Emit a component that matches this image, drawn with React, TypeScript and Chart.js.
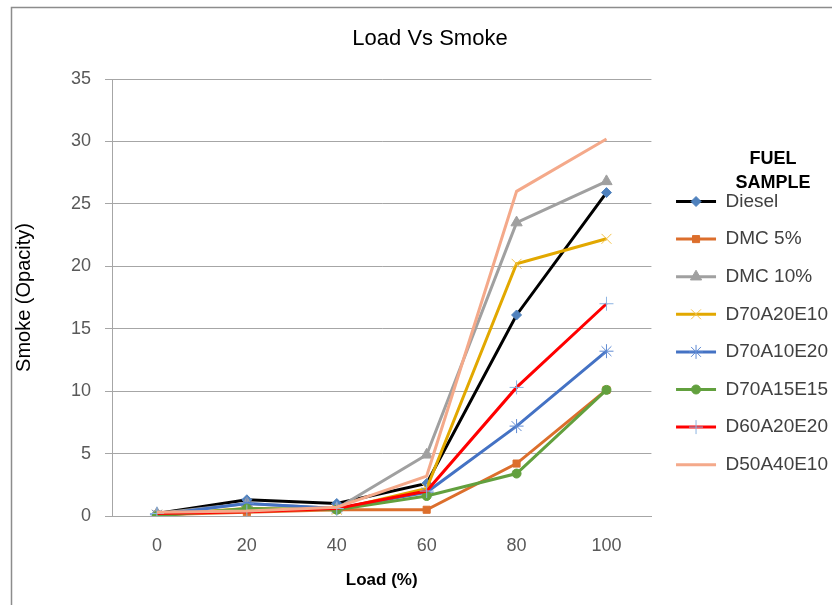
import React, { useEffect, useRef } from "react";
import { Chart, registerables } from "chart.js";
import { drawPoint } from "chart.js/helpers";

Chart.register(...registerables);

const FONT = "'Liberation Sans', Arial, sans-serif";

const chartTitle = "Load Vs Smoke";
const legendTitle = ["FUEL", "SAMPLE"];
const xAxisTitle = "Load (%)";
const yAxisTitle = "Smoke (Opacity)";

const loads = ["0", "20", "40", "60", "80", "100"];
const yTicksMin = 0;
const yTicksMax = 35;
const yTickStep = 5;

const seriesNames = [
  "Diesel",
  "DMC 5%",
  "DMC 10%",
  "D70A20E10",
  "D70A10E20",
  "D70A15E15",
  "D60A20E20",
  "D50A40E10",
];

const diesel = [0.2, 1.3, 1.0, 2.6, 16.1, 25.9];
const dmc5 = [0.1, 0.3, 0.5, 0.5, 4.2, 10.1];
const dmc10 = [0.2, 1.0, 0.6, 4.9, 23.5, 26.8];
const d70a20e10 = [0.1, 0.6, 0.5, 2.2, 20.2, 22.2];
const d70a10e20 = [0.1, 1.0, 0.6, 1.9, 7.2, 13.2];
const d70a15e15 = [0.0, 0.6, 0.5, 1.6, 3.4, 10.1];
const d60a20e20 = [0.2, 0.35, 0.6, 2.0, 10.3, 17.0];
const d50a40e10 = [0.3, 0.4, 0.7, 3.2, 26.0, 30.2];

const seriesValues = [diesel, dmc5, dmc10, d70a20e10, d70a10e20, d70a15e15, d60a20e20, d50a40e10];

const styles = [
  { line: "#000000", marker: "#4F81BD", style: "rectRot", r: 5, bw: 1 },
  { line: "#DC6E2C", marker: "#DC6E2C", style: "rect", r: 5, bw: 1 },
  { line: "#A0A0A0", marker: "#A0A0A0", style: "triangle", r: 6.5, bw: 1 },
  { line: "#E2A800", marker: "#F2C24A", style: "crossRot", r: 7, bw: 1 },
  { line: "#4472C4", marker: "#5F8AD2", style: "star", r: 7, bw: 1 },
  { line: "#62A03E", marker: "#62A03E", style: "circle", r: 4.5, bw: 1 },
  { line: "#FF0000", marker: "#8DB4E2", style: "cross", r: 7, bw: 1 },
  { line: "#F4A98A", marker: "#F4A98A", style: false, r: 0, bw: 0 },
];

const LEGEND_FONT_SIZE = 19;

const extrasPlugin = {
  id: "extras",
  beforeDraw(chart: any) {
    const ctx = chart.ctx;
    ctx.save();
    ctx.strokeStyle = "#8C8C8C";
    ctx.lineWidth = 1.5;
    ctx.beginPath();
    ctx.moveTo(11.5, chart.height);
    ctx.lineTo(11.5, 7.5);
    ctx.lineTo(chart.width, 7.5);
    ctx.stroke();
    ctx.restore();
  },
  afterDraw(chart: any) {
    const ctx = chart.ctx;
    ctx.save();
    ctx.fillStyle = "#000000";
    ctx.textAlign = "center";
    ctx.textBaseline = "middle";
    ctx.font = `22px ${FONT}`;
    ctx.fillText(chartTitle, 430, 39);

    const legend = chart.legend;
    const boxes = legend && legend.legendHitBoxes;
    if (boxes && boxes.length) {
      const first = boxes[0];
      const cy = first.top + LEGEND_FONT_SIZE / 2;
      ctx.font = `bold 18px ${FONT}`;
      ctx.fillStyle = "#000000";
      ctx.fillText(legendTitle[0], 773, cy - 42);
      ctx.fillText(legendTitle[1], 773, cy - 18);
      boxes.forEach((hb: any, i: number) => {
        const st = styles[i];
        const y = hb.top + LEGEND_FONT_SIZE / 2;
        const x0 = hb.left + 6;
        const x1 = hb.left + 46;
        ctx.strokeStyle = st.line;
        ctx.lineWidth = 3;
        ctx.beginPath();
        ctx.moveTo(x0, y);
        ctx.lineTo(x1, y);
        ctx.stroke();
        if (st.style) {
          ctx.fillStyle = st.marker;
          ctx.strokeStyle = st.marker;
          ctx.lineWidth = st.bw;
          drawPoint(ctx, { pointStyle: st.style, radius: st.r, rotation: 0, borderWidth: st.bw }, (x0 + x1) / 2, y);
        }
      });
    }
    ctx.restore();
  },
};

export default function App() {
  const ref = useRef<HTMLCanvasElement | null>(null);

  useEffect(() => {
    if (!ref.current) return;
    const datasets = seriesNames.map((name, i) => ({
      label: name,
      data: seriesValues[i],
      borderColor: styles[i].line,
      backgroundColor: styles[i].marker,
      pointBackgroundColor: styles[i].marker,
      pointBorderColor: styles[i].marker,
      pointStyle: styles[i].style,
      pointRadius: styles[i].r,
      pointBorderWidth: styles[i].bw,
      borderWidth: 3,
      tension: 0,
      fill: false,
      order: -i,
    }));

    const chart = new Chart(ref.current, {
      type: "line",
      data: { labels: loads, datasets },
      options: {
        animation: false,
        responsive: false,
        maintainAspectRatio: false,
        layout: { padding: { top: 79, left: 12, right: -6, bottom: 10 } },
        plugins: {
          title: { display: false },
          tooltip: { enabled: false },
          legend: {
            display: true,
            position: "right",
            align: "start",
            title: {
              display: true,
              text: "",
              font: { family: FONT, size: 18, weight: "bold" },
              padding: { top: 0, bottom: 72.8 },
            },
            labels: {
              boxWidth: 46,
              boxHeight: 3,
              padding: 18.6,
              color: "#404040",
              font: { family: FONT, size: LEGEND_FONT_SIZE },
              generateLabels: (c: any) =>
                c.data.datasets.map((ds: any, i: number) => ({
                  text: ds.label,
                  fillStyle: "rgba(0,0,0,0)",
                  strokeStyle: "rgba(0,0,0,0)",
                  lineWidth: 0,
                  hidden: false,
                  datasetIndex: i,
                  fontColor: "#404040",
                })),
            },
          },
        },
        scales: {
          x: {
            type: "category",
            offset: true,
            grid: { display: false, drawTicks: false },
            border: { display: true, color: "#A6A6A6", width: 1 },
            ticks: { color: "#595959", font: { family: FONT, size: 18 }, padding: 19 },
            title: {
              display: true,
              text: xAxisTitle,
              color: "#000000",
              font: { family: FONT, size: 17, weight: "bold" },
              padding: { top: 0, bottom: 4 },
            },
            afterFit: (scale: any) => {
              scale.height = 79;
            },
          },
          y: {
            min: yTicksMin,
            max: yTicksMax,
            ticks: { stepSize: yTickStep, color: "#595959", font: { family: FONT, size: 18 }, padding: 14 },
            grid: { color: "#A6A6A6", lineWidth: 1, drawTicks: true, tickLength: 7, tickColor: "#A6A6A6" },
            border: { display: true, color: "#A6A6A6", width: 1 },
            title: {
              display: true,
              text: yAxisTitle,
              color: "#000000",
              font: { family: FONT, size: 20 },
              padding: { top: 0, bottom: 4 },
            },
            afterFit: (scale: any) => {
              scale.width = 100;
            },
          },
        },
      },
      plugins: [extrasPlugin],
    });
    return () => chart.destroy();
  }, []);

  return (
    <div style={{ position: "fixed", left: 0, top: 0, width: 832, height: 605, background: "#fff" }}>
      <canvas ref={ref} width={832} height={605} />
    </div>
  );
}
